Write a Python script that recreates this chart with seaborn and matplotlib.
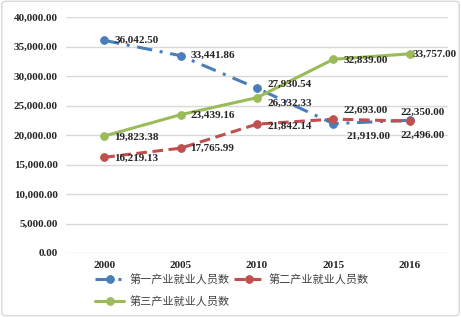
import numpy as np
import pandas as pd
import matplotlib
matplotlib.use('Agg')
import matplotlib.pyplot as plt
import seaborn as sns
from matplotlib.patches import FancyBboxPatch
from matplotlib.ticker import FuncFormatter

years = ['2000', '2005', '2010', '2015', '2016']
primary = [36042.50, 33441.86, 27930.54, 21919.00, 22496.00]
secondary = [16219.13, 17765.99, 21842.14, 22693.00, 22350.00]
tertiary = [19823.38, 23439.16, 26332.33, 32839.00, 33757.00]
names = ['第一产业就业人员数', '第二产业就业人员数', '第三产业就业人员数']

sns.set_style('white')
plt.rcParams['font.family'] = ['Liberation Serif', 'Noto Sans CJK SC']

fig = plt.figure(figsize=(4.61, 3.17), dpi=100)
ax = fig.add_axes([66/461, 1 - 253/317, (448-66)/461, (253-17)/317])

pos = np.arange(len(years))
series = [
    (primary, '#4a7ebb', (0, (5, 2.5, 1, 2.5))),
    (secondary, '#c0504d', (0, (3.5, 1.8))),
    (tertiary, '#9bbb59', '-'),
]
# label offsets in pixels (dx, dy)
offsets = [
    [(10, 0), (10, 0), (10, 4), (13, -13), (-9, -15)],
    [(10, -1), (10, 0), (10, -2), (10, 9), (-9, 9)],
    [(10, -1), (10, -1), (10, -6), (10, -1), (3, 0)],
]

for (vals, col, ls), name, offs in zip(series, names, offsets):
    df = pd.DataFrame({'x': pos, 'y': vals})
    sns.lineplot(data=df, x='x', y='y', ax=ax, color=col, linestyle=ls, linewidth=2.2,
                 marker='o', markersize=5.5, markeredgecolor=col, label=name)
    for x, y, (dx, dy) in zip(pos, vals, offs):
        ax.annotate(f'{y:,.2f}', (x, y), xytext=(dx, dy), textcoords='offset pixels',
                    ha='left', va='center', fontsize=8, fontweight='bold', color='#262626')

ax.set_xlim(-0.5, 4.5)
ax.set_ylim(0, 40000)
ax.set_yticks(np.arange(0, 40001, 5000))
ax.yaxis.set_major_formatter(FuncFormatter(lambda v, p: f'{v:,.2f}'))
ax.set_xticks(pos)
ax.set_xticklabels(years)
ax.set_xlabel('')
ax.set_ylabel('')
ax.grid(axis='y', color='#d9d9d9', linewidth=1)
for s in ax.spines.values():
    s.set_visible(False)
ax.tick_params(axis='both', length=0, labelsize=8, colors='#262626', pad=6)
for lab in ax.get_xticklabels() + ax.get_yticklabels():
    lab.set_fontweight('bold')

h, l = ax.get_legend_handles_labels()
order = [0, 2, 1]
ax.legend([h[i] for i in order], [l[i] for i in order],
          loc='upper center', bbox_to_anchor=(0.5 - 25/382, -0.045), ncol=2, frameon=False,
          prop={'family': ['Noto Sans CJK SC'], 'size': 8}, handlelength=2.6,
          columnspacing=0.4, handletextpad=0.5, labelspacing=1.0, labelcolor='#404040')

fig.patches.append(FancyBboxPatch((0.004, 0.004), 0.992, 0.992, boxstyle='round,pad=0,rounding_size=0.01',
                                  transform=fig.transFigure, fill=False, edgecolor='#d9d9d9', linewidth=1))

fig.savefig('out.png', dpi=100)
